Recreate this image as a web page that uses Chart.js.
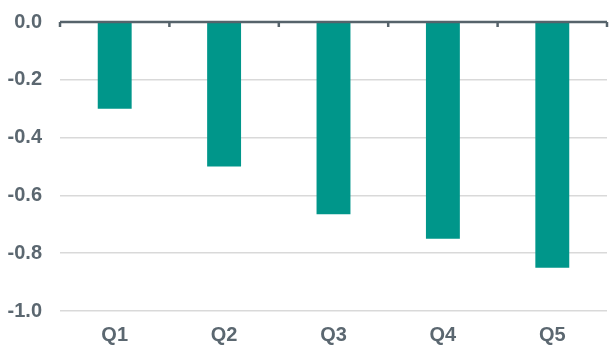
<!DOCTYPE html>
<html>
<head>
<meta charset="utf-8">
<script src="https://cdn.jsdelivr.net/npm/chart.js@4"></script>
<style>
  html, body { margin: 0; padding: 0; background: #fff; }
  #wrap { width: 609px; height: 345px; position: relative; }
</style>
</head>
<body>
<div id="wrap"><canvas id="c"></canvas></div>
<script>
const categories = ['Q1', 'Q2', 'Q3', 'Q4', 'Q5'];
const values = [-0.30, -0.50, -0.665, -0.75, -0.85];
const yTicks = [0, -0.2, -0.4, -0.6, -0.8, -1.0];

const axisColor = '#56636b';
const labelColor = '#5b6770';
const labelFont = { family: 'Liberation Sans, Arial, sans-serif', size: 20, weight: 'bold' };

// small tick marks hanging under the zero line, one per category boundary
const zeroTicks = {
  id: 'zeroTicks',
  afterDatasetsDraw(chart) {
    const { ctx, scales } = chart;
    const y0 = scales.y.getPixelForValue(0);
    ctx.save();
    ctx.strokeStyle = axisColor;
    ctx.lineWidth = 2.5;
    for (let i = 0; i <= categories.length; i++) {
      const x = scales.x.getPixelForValue(i - 0.5);
      ctx.beginPath();
      ctx.moveTo(x, y0);
      ctx.lineTo(x, y0 + 5);
      ctx.stroke();
    }
    ctx.beginPath();
    ctx.moveTo(scales.x.left, y0);
    ctx.lineTo(scales.x.right, y0);
    ctx.stroke();
    ctx.restore();
  }
};

new Chart(document.getElementById('c'), {
  type: 'bar',
  data: {
    labels: categories,
    datasets: [{
      data: values,
      backgroundColor: '#00968a',
      borderWidth: 0,
      barPercentage: 0.31,
      categoryPercentage: 1
    }]
  },
  options: {
    responsive: true,
    maintainAspectRatio: false,
    animation: false,
    layout: { padding: { top: 22, left: 6, right: 2, bottom: 0 } },
    plugins: { legend: { display: false }, tooltip: { enabled: false } },
    scales: {
      x: {
        grid: { display: false, drawTicks: false },
        border: { display: false },
        afterFit(scale) { scale.height = 34; },
        ticks: { color: labelColor, padding: 12, font: labelFont }
      },
      y: {
        min: -1.0,
        max: 0,
        afterBuildTicks(scale) {
          scale.ticks = yTicks.map(v => ({ value: v }));
        },
        afterFit(scale) {
          scale.width = 54;
          scale.paddingTop = 0;
          scale.paddingBottom = 0;
        },
        grid: {
          drawTicks: false,
          color: ctx => ctx.tick && ctx.tick.value === 0 ? 'rgba(0,0,0,0)' : '#d9d9d9',
          lineWidth: 1.5
        },
        border: { display: false },
        ticks: {
          color: labelColor,
          padding: 18,
          font: labelFont,
          callback: v => v.toFixed(1)
        }
      }
    }
  },
  plugins: [zeroTicks]
});
</script>
</body>
</html>
